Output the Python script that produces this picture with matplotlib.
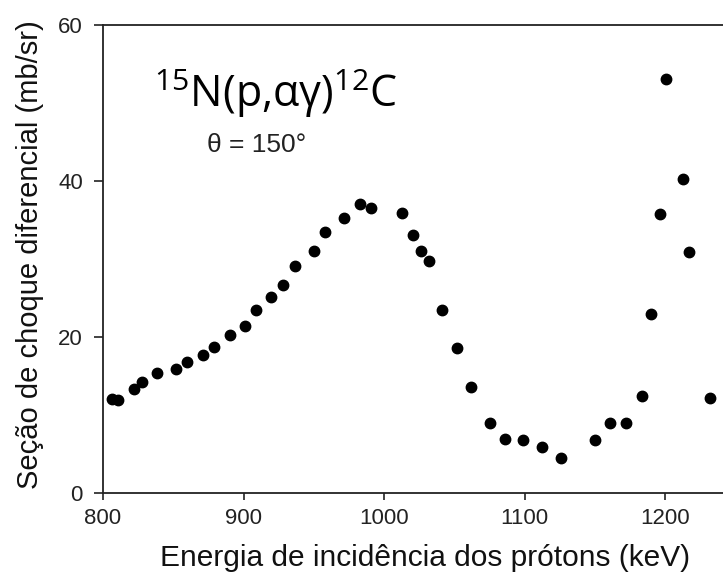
import matplotlib
matplotlib.use('Agg')
from matplotlib import pyplot as plt

# energia (keV) e secao de choque (mb/sr)
energia = [806.5, 810.5, 821.9, 827.6, 838.6, 852.1, 859.9, 871.0, 879.1, 890.0,
           900.9, 909.0, 919.7, 927.9, 936.3, 950.0, 958.1, 971.6, 982.7, 990.5,
           1012.9, 1020.4, 1025.9, 1031.6, 1041.3, 1051.7, 1062.0, 1075.0, 1085.7,
           1099.0, 1112.0, 1125.5, 1149.7, 1160.6, 1172.0, 1183.6, 1189.5, 1196.0,
           1200.4, 1212.5, 1217.1, 1231.7]
secao = [12.0, 11.9, 13.3, 14.2, 15.3, 15.9, 16.8, 17.7, 18.7, 20.2,
         21.4, 23.5, 25.1, 26.7, 29.1, 31.0, 33.4, 35.3, 37.0, 36.5,
         35.9, 33.0, 31.0, 29.7, 23.5, 18.5, 13.6, 9.0, 6.85,
         6.8, 5.8, 4.4, 6.7, 8.9, 8.9, 12.4, 22.9, 35.8,
         53.1, 40.3, 30.9, 12.1]

xticks = [800, 900, 1000, 1100, 1200]
yticks = [0, 20, 40, 60]

plt.rcParams['font.family'] = ['Liberation Sans', 'DejaVu Sans']
plt.rcParams['mathtext.fontset'] = 'custom'
plt.rcParams['mathtext.rm'] = 'Open Sans'

fig = plt.figure(figsize=(7.23, 5.76), dpi=100)
ax = fig.add_axes([103 / 723, 83.3 / 576, 632.7 / 723, 467.7 / 576])

ax.plot(energia, secao, 'o', color='black', markersize=7.5, clip_on=False)

ax.set_xlim(800, 1250)
ax.set_ylim(0, 60)
ax.set_xticks(xticks)
ax.set_yticks(yticks)

for side in ['left', 'bottom', 'top']:
    ax.spines[side].set_linewidth(1.3)
    ax.spines[side].set_color('#222222')
ax.spines['right'].set_visible(False)

ax.tick_params(axis='x', direction='out', length=5, width=1.2, pad=6,
               labelsize=16, colors='#222222', labelcolor='#222222')
ax.tick_params(axis='y', direction='out', length=6.5, width=1.2, pad=8,
               labelsize=16, colors='#222222', labelcolor='#222222')

ax.set_xlabel('Energia de incidência dos prótons (keV)', fontsize=21.5, color='#111111')
ax.xaxis.set_label_coords((425.5 - 103) / 632.7, -0.11)
ax.set_ylabel('Seção de choque diferencial (mb/sr)', fontsize=21, color='#111111')
ax.yaxis.set_label_coords((44 - 103) / 632.7, 0.508)

ax.text((276 - 103) / 632.7, (492.7 - 93) / 467.7, r'$^{15}$N(p,αγ)$^{12}$C',
        transform=ax.transAxes, ha='center', va='center', fontsize=31,
        family='Open Sans', color='black')
ax.text((257 - 103) / 632.7, (492.7 - 145) / 467.7, 'θ = 150°',
        transform=ax.transAxes, ha='center', va='center', fontsize=19,
        color='#222222')

fig.savefig('out.png', dpi=100)
